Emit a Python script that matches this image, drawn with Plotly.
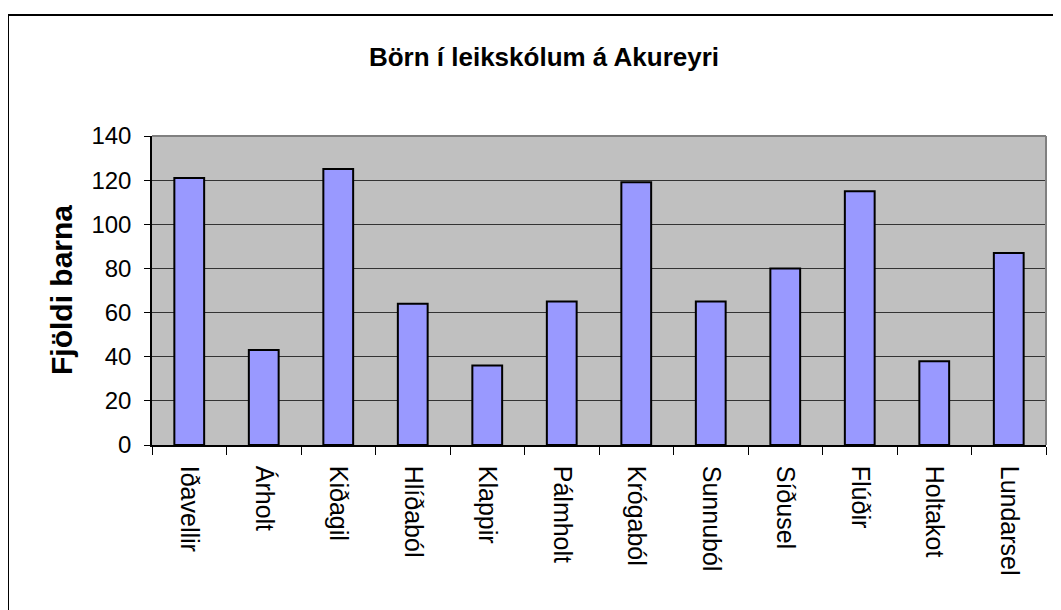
import plotly.graph_objects as go

categories = ["Iðavellir", "Árholt", "Kiðagil", "Hlíðaból", "Klappir", "Pálmholt",
              "Krógaból", "Sunnuból", "Síðusel", "Flúðir", "Holtakot", "Lundarsel"]
values = [121, 43, 125, 64, 36, 65, 119, 65, 80, 115, 38, 87]
title_text = "Börn í leikskólum á Akureyri"
y_title = "Fjöldi barna"
y_ticks = [0, 20, 40, 60, 80, 100, 120, 140]

W, H = 1061, 610
OFF = 8  # page body margin
# target screen positions of the plot area
SL, SR, ST, SB = 152, 1046, 136, 445
L = SL - OFF
T = ST - OFF
R = W - (SR - OFF)
B = H - (SB - OFF)
pw, ph = W - L - R, H - T - B
FONT = "Liberation Sans, Arial, sans-serif"

def px_x(p):  # screen px -> paper x
    return (p - SL) / pw

def px_y(p):  # screen px -> paper y
    return (SB - p) / ph

pos = list(range(len(categories)))

fig = go.Figure(go.Bar(
    x=pos, y=values, width=0.4,
    marker=dict(color="#9999FF", line=dict(color="black", width=2)),
))

fig.update_layout(
    width=W, height=H,
    margin=dict(l=L, r=R, t=T, b=B),
    paper_bgcolor="white", plot_bgcolor="#C0C0C0",
    font=dict(family=FONT, color="black", size=24),
    showlegend=False,
    title=dict(text="<b>" + title_text + "</b>", x=(544 - OFF) / W, xanchor="center",
               y=1 - (57 - OFF) / H, yanchor="middle", font=dict(size=26, family=FONT)),
)

fig.update_xaxes(
    range=[-0.5, len(categories) - 0.5],
    tickmode="array", tickvals=pos, ticktext=categories, tickangle=90,
    ticks="", showgrid=False, zeroline=False,
    showline=True, linecolor="black", linewidth=1.5,
    tickfont=dict(size=25), ticklabelstandoff=14,
    minor=dict(ticks="outside", tick0=-0.5, dtick=1, ticklen=8, tickcolor="black",
               tickwidth=1, showgrid=False),
)

fig.update_yaxes(
    range=[0, 140], tickmode="array", tickvals=y_ticks,
    ticks="outside", ticklen=6, tickcolor="black", tickwidth=1,
    showgrid=True, gridcolor="#333333", gridwidth=1.2, zeroline=False,
    showline=True, linecolor="black", linewidth=1.5,
    tickfont=dict(size=24), ticklabelstandoff=8,
)

# plot-area border (grey, top & right)
fig.add_shape(type="line", xref="paper", yref="paper", x0=0, x1=1, y0=1, y1=1,
              line=dict(color="#808080", width=2))
fig.add_shape(type="line", xref="paper", yref="paper", x0=1, x1=1, y0=0, y1=1,
              line=dict(color="#808080", width=2))

# outer chart frame
fig.add_shape(type="rect", xref="paper", yref="paper",
              x0=px_x(8), x1=px_x(1085), y0=px_y(15), y1=px_y(640),
              line=dict(color="black", width=2), fillcolor="rgba(0,0,0,0)", layer="above")

fig.add_annotation(text="<b>" + y_title + "</b>", textangle=-90,
                   xref="paper", yref="paper", x=px_x(61), y=px_y(290),
                   xanchor="center", yanchor="middle", showarrow=False,
                   font=dict(size=30, family=FONT))

fig.write_html("out.html")
